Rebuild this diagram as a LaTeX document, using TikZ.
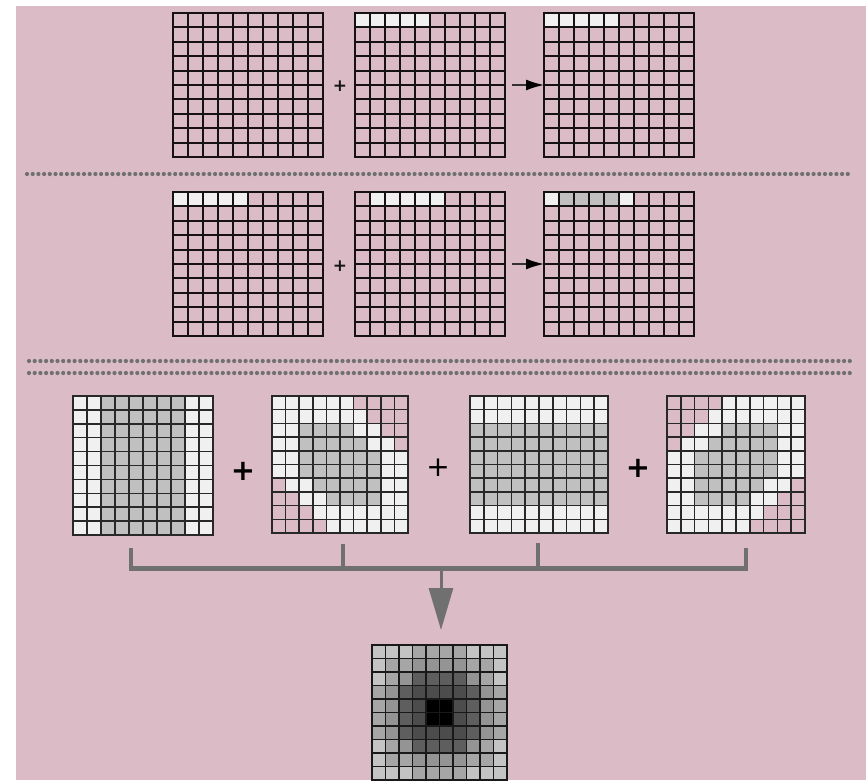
\documentclass[tikz,border=0pt]{standalone}
\usepackage{fontspec}
\newfontfamily\plusfont{DejaVu Sans}
\usetikzlibrary{arrows.meta,fit}
\definecolor{bgpink}{RGB}{219,188,198}
\definecolor{cellp}{RGB}{219,188,198}
\definecolor{cellw}{HTML}{F0F0F0}
\definecolor{cellg}{HTML}{C0C0C0}
\definecolor{cellL}{HTML}{C4C4C4}
\definecolor{cellM}{HTML}{A6A6A6}
\definecolor{cellN}{HTML}{949494}
\definecolor{cellD}{HTML}{5E5E5E}
\definecolor{cellE}{HTML}{4C4C4C}
\definecolor{cellK}{HTML}{000000}
\definecolor{connGray}{HTML}{707070}
\newcommand{\cellgrid}[7]{%
  \coordinate (#1-nw) at (#2,#3);
  \coordinate (#1-se) at (#4,#5);
  \node[fit=(#1-nw)(#1-se),inner sep=0pt,outer sep=0pt] (#1) {};
  \pgfmathsetmacro\gcw{(#4-#2)/10}%
  \pgfmathsetmacro\gch{(#5-#3)/10}%
  \foreach \row [count=\ri from 0] in {#7} {%
    \foreach \cl [count=\ki from 0] in \row {%
      \fill[fill=cell\cl] ({#2+\ki*\gcw},{#3+\ri*\gch}) rectangle ++(\gcw,\gch);
    }
  }
  \foreach \i in {0,...,10} {%
    \draw[#6] ({#2+\i*\gcw},#3) -- ({#2+\i*\gcw},#5);
    \draw[#6] (#2,{#3+\i*\gch}) -- (#4,{#3+\i*\gch});
  }
}
\begin{document}
\begin{tikzpicture}[x=1pt,y=-1pt,
  topline/.style={line width=1.9pt,line cap=rect,draw={rgb,255:red,22;green,18;blue,20}},
  midline/.style={line width=1.5pt,line cap=rect,draw={rgb,255:red,40;green,40;blue,40}},
  botline/.style={line width=1.7pt,line cap=rect,draw={rgb,255:red,25;green,25;blue,25}},
  dotline/.style={line width=4.2pt,line cap=round,dash pattern=on 0pt off 5.7pt,draw=connGray},
  smallplus/.style={font=\plusfont\bfseries\fontsize{17}{17}\selectfont,inner sep=0pt,text={rgb,255:red,20;green,20;blue,20}},
  bigplus/.style={font=\plusfont\bfseries\fontsize{29}{29}\selectfont,inner sep=0pt},
  midplus/.style={font=\plusfont\fontsize{28}{28}\selectfont,inner sep=0pt},
  smallarrow/.style={line width=1.6pt,draw={rgb,255:red,50;green,50;blue,50},-{Latex[length=18pt,width=11pt,black]}},
  tick/.style={line width=3.5pt,draw=connGray},
  bar/.style={line width=5pt,draw=connGray},
  bigarrow/.style={line width=3pt,draw=connGray,-{Triangle[length=42pt,width=24pt,fill=connGray]}}
]
\useasboundingbox (0,0) rectangle (868,780);
\fill[white] (0,0) rectangle (868,780);
\fill[bgpink] (16,6) rectangle (866,780);

% ---------- row 1 ----------
\cellgrid{a1}{173}{13}{323}{157}{topline}{%
{p,p,p,p,p,p,p,p,p,p},{p,p,p,p,p,p,p,p,p,p},{p,p,p,p,p,p,p,p,p,p},{p,p,p,p,p,p,p,p,p,p},{p,p,p,p,p,p,p,p,p,p},
{p,p,p,p,p,p,p,p,p,p},{p,p,p,p,p,p,p,p,p,p},{p,p,p,p,p,p,p,p,p,p},{p,p,p,p,p,p,p,p,p,p},{p,p,p,p,p,p,p,p,p,p}}
\cellgrid{a2}{355}{13}{505}{157}{topline}{%
{w,w,w,w,w,p,p,p,p,p},{p,p,p,p,p,p,p,p,p,p},{p,p,p,p,p,p,p,p,p,p},{p,p,p,p,p,p,p,p,p,p},{p,p,p,p,p,p,p,p,p,p},
{p,p,p,p,p,p,p,p,p,p},{p,p,p,p,p,p,p,p,p,p},{p,p,p,p,p,p,p,p,p,p},{p,p,p,p,p,p,p,p,p,p},{p,p,p,p,p,p,p,p,p,p}}
\cellgrid{a3}{544}{13}{694}{157}{topline}{%
{w,w,w,w,w,p,p,p,p,p},{p,p,p,p,p,p,p,p,p,p},{p,p,p,p,p,p,p,p,p,p},{p,p,p,p,p,p,p,p,p,p},{p,p,p,p,p,p,p,p,p,p},
{p,p,p,p,p,p,p,p,p,p},{p,p,p,p,p,p,p,p,p,p},{p,p,p,p,p,p,p,p,p,p},{p,p,p,p,p,p,p,p,p,p},{p,p,p,p,p,p,p,p,p,p}}
\node[smallplus] (plus1) at (340,86) {+};
\draw[smallarrow] ([xshift=7pt]a2.east) -- (a3.west);

\draw[dotline] (27,174) -- (853,174);

% ---------- row 2 ----------
\cellgrid{b1}{173}{192}{323}{336}{topline}{%
{w,w,w,w,w,p,p,p,p,p},{p,p,p,p,p,p,p,p,p,p},{p,p,p,p,p,p,p,p,p,p},{p,p,p,p,p,p,p,p,p,p},{p,p,p,p,p,p,p,p,p,p},
{p,p,p,p,p,p,p,p,p,p},{p,p,p,p,p,p,p,p,p,p},{p,p,p,p,p,p,p,p,p,p},{p,p,p,p,p,p,p,p,p,p},{p,p,p,p,p,p,p,p,p,p}}
\cellgrid{b2}{355}{192}{505}{336}{topline}{%
{p,w,w,w,w,w,p,p,p,p},{p,p,p,p,p,p,p,p,p,p},{p,p,p,p,p,p,p,p,p,p},{p,p,p,p,p,p,p,p,p,p},{p,p,p,p,p,p,p,p,p,p},
{p,p,p,p,p,p,p,p,p,p},{p,p,p,p,p,p,p,p,p,p},{p,p,p,p,p,p,p,p,p,p},{p,p,p,p,p,p,p,p,p,p},{p,p,p,p,p,p,p,p,p,p}}
\cellgrid{b3}{544}{192}{694}{336}{topline}{%
{w,g,g,g,g,w,p,p,p,p},{p,p,p,p,p,p,p,p,p,p},{p,p,p,p,p,p,p,p,p,p},{p,p,p,p,p,p,p,p,p,p},{p,p,p,p,p,p,p,p,p,p},
{p,p,p,p,p,p,p,p,p,p},{p,p,p,p,p,p,p,p,p,p},{p,p,p,p,p,p,p,p,p,p},{p,p,p,p,p,p,p,p,p,p},{p,p,p,p,p,p,p,p,p,p}}
\node[smallplus] (plus2) at (340,266) {+};
\draw[smallarrow] ([xshift=7pt]b2.east) -- (b3.west);

\draw[dotline] (29,361) -- (852,361);
\draw[dotline] (29,373) -- (852,373);

% ---------- row 3 ----------
\cellgrid{c1}{73}{396}{213}{535}{midline}{%
{w,w,g,g,g,g,g,g,w,w},{w,w,g,g,g,g,g,g,w,w},{w,w,g,g,g,g,g,g,w,w},{w,w,g,g,g,g,g,g,w,w},{w,w,g,g,g,g,g,g,w,w},
{w,w,g,g,g,g,g,g,w,w},{w,w,g,g,g,g,g,g,w,w},{w,w,g,g,g,g,g,g,w,w},{w,w,g,g,g,g,g,g,w,w},{w,w,g,g,g,g,g,g,w,w}}
\cellgrid{c2}{272}{396}{408}{533}{midline}{%
{w,w,w,w,w,w,p,p,p,p},{w,w,w,w,w,w,w,p,p,p},{w,w,g,g,g,g,w,w,p,p},{w,w,g,g,g,g,g,w,w,p},{w,w,g,g,g,g,g,g,w,w},
{w,w,g,g,g,g,g,g,w,w},{p,w,w,g,g,g,g,g,w,w},{p,p,w,w,g,g,g,g,w,w},{p,p,p,w,w,w,w,w,w,w},{p,p,p,p,w,w,w,w,w,w}}
\cellgrid{c3}{470}{396}{608}{533}{midline}{%
{w,w,w,w,w,w,w,w,w,w},{w,w,w,w,w,w,w,w,w,w},{g,g,g,g,g,g,g,g,g,g},{g,g,g,g,g,g,g,g,g,g},{g,g,g,g,g,g,g,g,g,g},
{g,g,g,g,g,g,g,g,g,g},{g,g,g,g,g,g,g,g,g,g},{g,g,g,g,g,g,g,g,g,g},{w,w,w,w,w,w,w,w,w,w},{w,w,w,w,w,w,w,w,w,w}}
\cellgrid{c4}{667}{396}{805}{533}{midline}{%
{p,p,p,p,w,w,w,w,w,w},{p,p,p,w,w,w,w,w,w,w},{p,p,w,w,g,g,g,g,w,w},{p,w,w,g,g,g,g,g,w,w},{w,w,g,g,g,g,g,g,w,w},
{w,w,g,g,g,g,g,g,w,w},{w,w,g,g,g,g,g,w,w,p},{w,w,g,g,g,g,w,w,p,p},{w,w,w,w,w,w,w,p,p,p},{w,w,w,w,w,w,p,p,p,p}}
\node[bigplus] (plus3) at (243,471) {+};
\node[midplus] (plus4) at (438,468) {+};
\node[bigplus] (plus5) at (638,468) {+};

% ---------- connector ----------
\coordinate (t1) at (131,548);
\coordinate (t2) at (343,544);
\coordinate (t3) at (538,543);
\coordinate (t4) at (746,548);
\coordinate (barL) at (129.25,568);
\coordinate (barR) at (747.75,568);
\coordinate (stem) at (441,568);
\coordinate (tip) at (441,630);
\draw[tick] (t1) -- (t1 |- barL);
\draw[tick] (t2) -- (t2 |- barL);
\draw[tick] (t3) -- (t3 |- barL);
\draw[tick] (t4) -- (t4 |- barL);
\draw[bar] (barL) -- (barR);
\draw[bigarrow] (stem) -- (tip);

% ---------- result ----------
\cellgrid{d1}{372}{645}{507}{780}{botline}{%
{L,L,L,M,M,M,M,L,L,L},{L,M,M,N,N,N,N,M,M,L},{L,M,N,D,D,D,D,N,M,L},{M,N,D,E,E,E,E,D,N,M},{M,N,D,E,K,K,E,D,N,M},
{M,N,D,E,K,K,E,D,N,M},{M,N,D,E,E,E,E,D,N,M},{L,M,N,D,D,D,D,N,M,L},{L,M,M,N,N,N,N,M,M,L},{L,L,L,M,M,M,M,L,L,L}}
\end{tikzpicture}
\end{document}
